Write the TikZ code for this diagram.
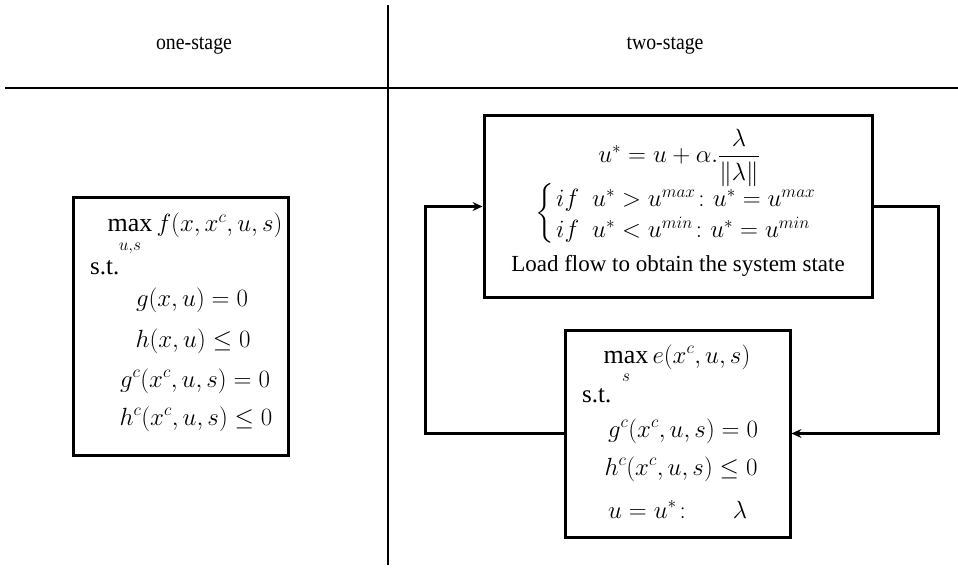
\documentclass[tikz,border=0pt]{standalone}
\usepackage{amsmath}
\usepackage{fontspec}
\setmainfont{Liberation Serif}
\usetikzlibrary{arrows.meta}
\begin{document}
\begin{tikzpicture}[x=1pt,y=-1pt,
  rule/.style={line width=2.4pt},
  box/.style={draw,line width=3pt,rectangle,inner sep=0pt},
  hdr/.style={inner sep=0pt,font=\fontsize{22}{26}\selectfont,xscale=0.9},
  lbl/.style={inner sep=0pt,font=\fontsize{23}{27}\selectfont},
  st/.style={inner sep=0pt,font=\fontsize{25}{29}\selectfont},
  eq/.style={inner sep=0pt,font=\fontsize{26}{31}\selectfont},
  loop/.style={line width=2.4pt,-{Stealth[length=10pt,width=9pt,inset=3.5pt]}}]
\useasboundingbox (0,0) rectangle (958,569);
% dividers
\coordinate (vt) at (388,5);
\coordinate (vb) at (388,565);
\coordinate (hl) at (5,88);
\coordinate (hr) at (958,88);
\draw[rule] (vt) -- (vb);
\draw[rule] (hl) -- (hr);
\node[hdr] (h1) at (194,46) {one-stage};
\node[hdr] (h2) at (665,46) {two-stage};
% left box
\node[box,minimum width=215pt,minimum height=257pt] (lbox) at (180.5,326.5) {};
\node[eq,anchor=base] (l1) at (195,232) {$\max\limits_{\raisebox{-3pt}{$\scriptstyle u,s$}} f(x,x^c,u,s)$};
\node[st,anchor=base west] (l2) at (90,275) {s.t.};
\node[eq,anchor=base] (l3) at (192,306) {$g(x,u)=0$};
\node[eq,anchor=base] (l4) at (193,347) {$h(x,u)\le 0$};
\node[eq,anchor=base] (l5) at (195,387) {$g^c(x^c,u,s)=0$};
\node[eq,anchor=base] (l6) at (196,425) {$h^c(x^c,u,s)\le 0$};
% top right box
\node[box,minimum width=388pt,minimum height=181pt] (tbox) at (678,206.5) {};
\node[eq,anchor=base] (t1) at (679,163) {$u^{*}=u+\alpha.\dfrac{\lambda}{\|\lambda\|}$};
\node[eq] (t2) at (545,214) {$\left\{\vrule height 25pt depth 25pt width 0pt\right.$};
\node[eq,anchor=base west] (t3) at (556,207) {$if\ \ u^{*}>u^{max}\colon u^{*}=u^{max}$};
\node[eq,anchor=base west] (t4) at (556,238) {$if\ \ u^{*}<u^{min}\colon u^{*}=u^{min}$};
\node[lbl,anchor=base] (t5) at (678,272) {Load flow to obtain the system state};
% bottom right box
\node[box,minimum width=225pt,minimum height=207pt] (bbox) at (677.5,433.5) {};
\node[eq,anchor=base] (b1) at (677,363) {$\max\limits_{\raisebox{-3pt}{$\scriptstyle s$}} e(x^c,u,s)$};
\node[st,anchor=base west] (b2) at (582,402) {s.t.};
\node[eq,anchor=base] (b3) at (683,437) {$g^c(x^c,u,s)=0$};
\node[eq,anchor=base] (b4) at (681,475) {$h^c(x^c,u,s)\le 0$};
\node[eq,anchor=base west] (b5) at (608,518) {$u=u^{*}\colon$};
\node[eq,anchor=base] (b6) at (740,518) {$\lambda$};
% loop connectors
\draw[loop] (bbox.west) -- ++(-138,0) |- (tbox.west);
\draw[loop] (tbox.east) -- ++(65,0) |- (bbox.east);
\end{tikzpicture}
\end{document}
